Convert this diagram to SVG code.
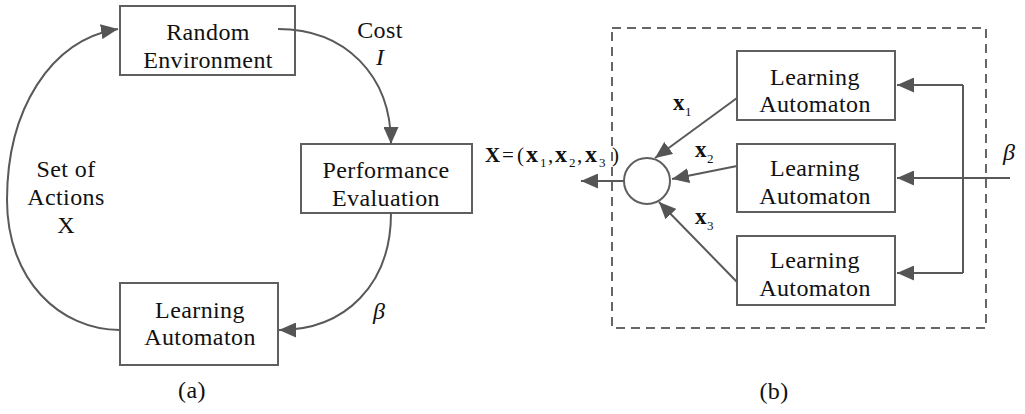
<svg xmlns="http://www.w3.org/2000/svg" width="1025" height="414" viewBox="0 0 1025 414">
<style>
.box{fill:#fff;stroke:#5f5f5f;stroke-width:2}
.ln{fill:none;stroke:#595959;stroke-width:2}
.t{font-family:"Liberation Serif","Times New Roman",serif;font-size:24px;fill:#111;letter-spacing:0.4px}
.tc{text-anchor:middle}
.it{font-style:italic;letter-spacing:0}
.b{font-weight:bold;letter-spacing:0}
.sub{font-size:13px;letter-spacing:0;fill:#111}
</style>
<defs>
<marker id="ah" markerUnits="userSpaceOnUse" markerWidth="17" markerHeight="15" viewBox="0 0 17 15" refX="17" refY="7.5" orient="auto">
<path d="M0,0 L17,7.5 L0,15 z" fill="#555"/>
</marker>
</defs>
<rect width="1025" height="414" fill="#fff"/>

<!-- Panel (a) -->
<g id="random-environment">
<rect class="box" x="120" y="6" width="175" height="69"/>
<text class="t tc" x="208" y="40">Random</text>
<text class="t tc" x="208" y="68">Environment</text>
</g>
<g id="performance-evaluation">
<rect class="box" x="301" y="144" width="171" height="69"/>
<text class="t tc" x="386" y="178">Performance</text>
<text class="t tc" x="386" y="206">Evaluation</text>
</g>
<g id="learning-automaton-a">
<rect class="box" x="120" y="283" width="158" height="82"/>
<text class="t tc" x="200" y="318">Learning</text>
<text class="t tc" x="200" y="345">Automaton</text>
</g>

<!-- Panel (b) -->
<g id="dashed-frame">
<rect x="612" y="28" width="374" height="300" fill="none" stroke="#666" stroke-width="2" stroke-dasharray="9 6"/>
</g>
<g id="learning-automaton-1">
<rect class="box" x="737" y="51" width="158" height="69"/>
<text class="t tc" x="815" y="85">Learning</text>
<text class="t tc" x="815" y="112">Automaton</text>
</g>
<g id="learning-automaton-2">
<rect class="box" x="737" y="144" width="158" height="68"/>
<text class="t tc" x="815" y="176">Learning</text>
<text class="t tc" x="815" y="204">Automaton</text>
</g>
<g id="learning-automaton-3">
<rect class="box" x="737" y="236" width="158" height="69"/>
<text class="t tc" x="815" y="268">Learning</text>
<text class="t tc" x="815" y="296">Automaton</text>
</g>
<g id="combiner">
<circle cx="647" cy="181" r="23" fill="#fff" stroke="#5f5f5f" stroke-width="2"/>
</g>

<g id="connectors">
<path class="ln" d="M278,29 C345,29 391,75 391,144" marker-end="url(#ah)"/>
<path class="ln" d="M391,213 C391,285 345,330 279,330" marker-end="url(#ah)"/>
<path class="ln" d="M120,330 C60,330 7,280 7,200 C7,110 50,40 118,29" marker-end="url(#ah)"/>

<path class="ln" d="M624,181 L581,181" marker-end="url(#ah)"/>
<path class="ln" d="M737,98 L655,158" marker-end="url(#ah)"/>
<path class="ln" d="M737,166 L672,179" marker-end="url(#ah)"/>
<path class="ln" d="M737,282 L659,202" marker-end="url(#ah)"/>

<path class="ln" d="M963,85 L963,273"/>
<path class="ln" d="M963,85 L897,85" marker-end="url(#ah)"/>
<path class="ln" d="M1010,178 L897,178" marker-end="url(#ah)"/>
<path class="ln" d="M963,273 L897,273" marker-end="url(#ah)"/>
</g>

<g id="labels">
<text class="t tc" x="380" y="38">Cost</text>
<text class="t tc it" x="380" y="65">I</text>
<text class="t tc" x="66" y="177">Set of</text>
<text class="t tc" x="66" y="205">Actions</text>
<text class="t tc" x="66" y="233">X</text>
<text class="t it" x="373" y="319">β</text>
<text class="t tc" x="192" y="398">(a)</text>

<text class="t" style="font-size:21px;letter-spacing:0" y="162"><tspan class="b" x="485">X</tspan><tspan x="502">=</tspan><tspan x="517">(</tspan><tspan class="b" style="font-size:24px" x="526">x</tspan><tspan class="sub" x="540" y="167">1</tspan><tspan x="548" y="162">,</tspan><tspan class="b" style="font-size:24px" x="555">x</tspan><tspan class="sub" x="569" y="167">2</tspan><tspan x="577" y="162">,</tspan><tspan class="b" style="font-size:24px" x="585">x</tspan><tspan class="sub" x="599" y="167">3</tspan><tspan x="612" y="162">)</tspan></text>

<text class="t" style="font-size:23px" y="110"><tspan class="b" x="673">x</tspan><tspan class="sub" x="685" y="116">1</tspan></text>
<text class="t" style="font-size:23px" y="157"><tspan class="b" x="695">x</tspan><tspan class="sub" x="707" y="163">2</tspan></text>
<text class="t" style="font-size:23px" y="224"><tspan class="b" x="695">x</tspan><tspan class="sub" x="707" y="230">3</tspan></text>
<text class="t it" style="font-size:24px" x="1003" y="160">β</text>
<text class="t tc" x="774" y="399">(b)</text>
</g>
</svg>
